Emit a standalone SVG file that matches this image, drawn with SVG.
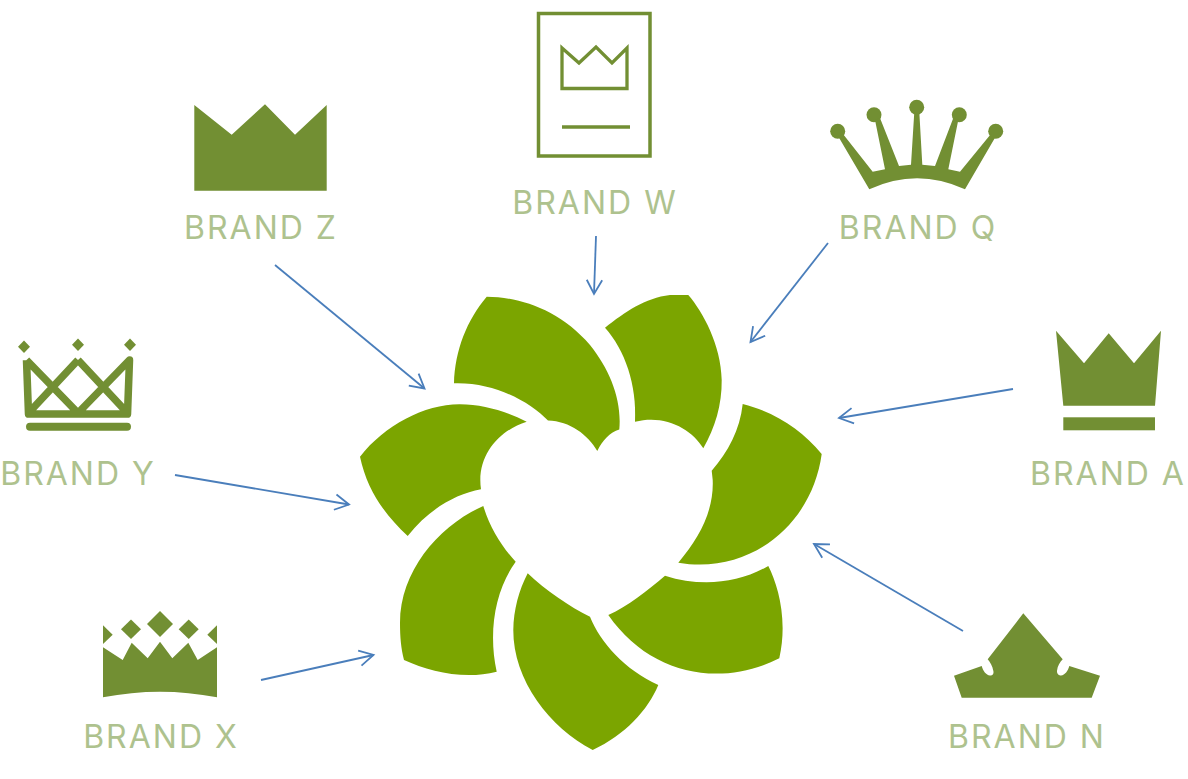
<svg xmlns="http://www.w3.org/2000/svg" width="1188" height="779" viewBox="0 0 1188 779">
<style>
.petal{fill:#7ba500}
.crown{fill:#728f33}
.line{fill:none;stroke:#728f33}
.label{fill:#aec28e;font-family:"Inter","Liberation Sans",sans-serif;font-size:32px;letter-spacing:2px;text-anchor:middle}
.conn{fill:none;stroke:#4a7ebb;stroke-width:1.8;marker-end:url(#arr)}
</style>
<defs>
<marker id="arr" markerUnits="userSpaceOnUse" markerWidth="18" markerHeight="18" refX="15" refY="9" orient="auto" viewBox="0 0 18 18">
<path d="M1 1.3L15 9L1 16.7" fill="none" stroke="#4a7ebb" stroke-width="1.8"/>
</marker>
</defs>
<rect width="1188" height="779" fill="#fff"/>
<g id="flower">
<path class="petal" d="M486.700 296.700C520 297 560 310 590 345C610 370 622 400 619.300 429.500C610 432 602 441 597.300 451C588 435 570 421 548 420.500C530 402 495 382 454 383.300C455 350 467 320 486.700 296.700Z"/>
<path class="petal" d="M605 327.700C625 312 645 298 670 295L688.300 295C703 312 721 345 721.700 380C722 405 715 428 703.300 448.300C692 429 665 414 635 421.700C637 385 625 350 605 327.700Z"/>
<path class="petal" d="M742.700 404C775 412 802 430 821.700 454C812 525 750 575 678.300 562.700C700 537 714 510 712.700 480L711.700 470.700C728 452 740 430 742.700 404Z"/>
<path class="petal" d="M768.300 566C778 585 788 620 779.300 658.300C720 688 650 675 608.300 615C628 606 647 591 665 575.700C700 587 737 584 768.300 566Z"/>
<path class="petal" d="M527.700 573.300C545 590 570 607 590 616.700C600 642 625 670 658.300 685C648 710 625 735 592.700 750C550 728 513 680 513.300 630C513.500 610 519 590 527.700 573.300Z"/>
<path class="petal" d="M483.300 506C490 528 502 547 515.700 561.700C495 590 488 632 496.700 671.700C465 680 430 672 404 660C401 648 400 637 400 623C400 570 440 525 483.300 506Z"/>
<path class="petal" d="M360 456.700C385 425 425 404 460 404.300C483 404.500 505 411 526.700 421.700C500 430 476 455 481 489.300C455 494 428 510 407.700 536C385 515 367 490 360 456.700Z"/>
</g>
<g id="brand-w">
<rect class="line" x="538.500" y="13.500" width="111.500" height="142.500" stroke-width="3.500"/>
<path class="line" d="M562 48L579 63L596 47L612 63L627 48V88.500H562Z" stroke-width="3.300"/>
<path class="line" d="M562 127H630" stroke-width="3.500"/>
<text class="label" x="595" y="214">BRAND W</text>
</g>
<g id="brand-q">
<circle class="crown" cx="837.700" cy="131.300" r="7.500"/><circle class="crown" cx="874" cy="114.700" r="7.500"/><circle class="crown" cx="916.700" cy="107.300" r="7.500"/><circle class="crown" cx="959.300" cy="114.700" r="7.500"/><circle class="crown" cx="995.700" cy="131.300" r="7.500"/>
<path class="crown" d="M869.300 189.300L838 136L843 134L872.700 171.700L885 169.300L875 120L880 118L899 166L911 164.700L914.300 112H919.300L922.300 164.700L935 166L953.300 118L958.300 120L948.300 169.300L960 171.700L990.700 134.300L995 137.700L965 189.300Q917 167.300 869.300 189.300Z"/>
<text class="label" x="918" y="239">BRAND Q</text>
</g>
<g id="brand-z">
<path class="crown" d="M194.300 105L231.700 134.700L265 104.300L295 134.700L326.700 105V190.700H194.300Z"/>
<text class="label" x="261" y="239">BRAND Z</text>
</g>
<g id="brand-a">
<path class="crown" d="M1056 330.700L1084 363.300L1108.700 333.300L1134 363.300L1161 330.700L1155 405.700H1063.300Z"/>
<rect class="crown" x="1063.300" y="417.300" width="91.700" height="13"/>
<text class="label" x="1108" y="485">BRAND A</text>
</g>
<g id="brand-y">
<path class="crown" d="M24 340.500L30 346.700L24 353L18 346.700Z"/><path class="crown" d="M78 338.500L84 344.700L78 351L72 344.700Z"/><path class="crown" d="M130 338.500L136 344.700L130 351L124 344.700Z"/>
<path class="line" d="M26.500 360L28.500 414H127.500L129.500 360L78 413L26.500 360M78 360L28.500 413M78 360L127.500 413" stroke-width="7.500" stroke-linejoin="round"/>
<rect class="crown" x="26" y="422.700" width="105" height="8" rx="4"/>
<text class="label" x="78" y="485">BRAND Y</text>
</g>
<g id="brand-x">
<path class="crown" d="M160 611L173 624L160 637L147 624Z"/><path class="crown" d="M131 619.500L141 629.300L131 639L121 629.300Z"/><path class="crown" d="M188.700 619.500L198.700 629.300L188.700 639L178.700 629.300Z"/>
<path class="crown" d="M103 625.300L112.700 634.700L103 644Z"/><path class="crown" d="M217 625.300L207.300 634.700L217 644Z"/>
<path class="crown" d="M103 647.300L122.700 660L131.700 642.700L147.700 658.300L160 641.700L172.300 658.300L188.300 642.700L197.700 660L217 647.300V697.300Q160 686 103 697.300Z"/>
<text class="label" x="161" y="748">BRAND X</text>
</g>
<g id="brand-n">
<path class="crown" d="M1023.300 613.300L1062.700 659.300C1060 662 1057.500 666 1057 670.700C1056.700 673 1058 676 1061 675.500C1065 675 1068 671 1069.300 666L1100 675.700L1091.700 697.700H961.700L954 675.700L981.700 666C983 671 986 675 990 675.500C993 676 994 673 993.300 670.700C992.500 666 990 662 987.700 659.300Z"/>
<text class="label" x="1027" y="748">BRAND N</text>
</g>
<g id="connectors">
<line class="conn" x1="275" y1="265" x2="424.500" y2="388.500"/>
<line class="conn" x1="596" y1="236" x2="594" y2="294"/>
<line class="conn" x1="828" y1="243" x2="750.500" y2="342"/>
<line class="conn" x1="1013" y1="389" x2="839" y2="418"/>
<line class="conn" x1="963" y1="631" x2="814" y2="544"/>
<line class="conn" x1="175" y1="475" x2="349" y2="504.500"/>
<line class="conn" x1="261" y1="680" x2="373.500" y2="655"/>
</g>
</svg>
